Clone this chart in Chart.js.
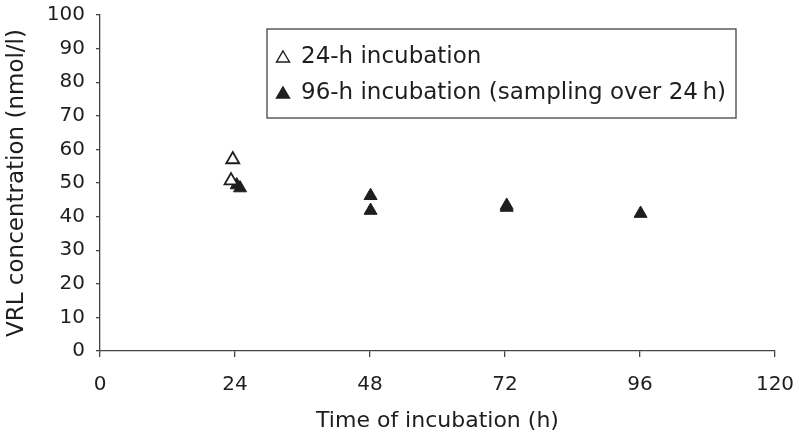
<!DOCTYPE html>
<html>
<head>
<meta charset="utf-8">
<script src="https://cdn.jsdelivr.net/npm/chart.js@4/dist/chart.umd.min.js"></script>
<style>
  html, body { margin: 0; padding: 0; background: #fff; }
  #wrap { width: 800px; height: 435px; }
</style>
</head>
<body>
<div id="wrap"><canvas id="myChart" width="800" height="435"></canvas></div>
<script>
// values
const seriesNames = ['24-h incubation', '96-h incubation (sampling over 24\u2009h)'];
const openTimes = [23.6, 23.3];
const openVals = [57.0, 50.7];
const filledTimes = [24.3, 24.9, 48.1, 48.1, 72.3, 72.3, 96.1];
const filledVals = [49.4, 48.5, 46.2, 41.8, 43.3, 42.7, 40.9];
const xTicks = [0, 24, 48, 72, 96, 120];

const font = "'DejaVu Sans', 'Liberation Sans', sans-serif";
const ink = '#1e1e1e';

function pts(xs, ys) {
  return xs.map((x, i) => ({ x: x, y: ys[i] }));
}

// little boxed legend inside the plot, like the original
const boxLegend = {
  id: 'boxLegend',
  afterDraw(chart) {
    const ctx = chart.ctx;
    const x0 = 267, y0 = 29, w = 469, h = 89;
    ctx.save();
    ctx.strokeStyle = '#444';
    ctx.lineWidth = 1.3;
    ctx.strokeRect(x0, y0, w, h);
    ctx.font = '23px ' + font;
    ctx.textBaseline = 'middle';
    chart.data.datasets.forEach((ds, i) => {
      const cy = y0 + 28 + i * 36;
      const mx = x0 + 16;
      ctx.beginPath();
      ctx.moveTo(mx, cy - 6);
      ctx.lineTo(mx + 6.5, cy + 5);
      ctx.lineTo(mx - 6.5, cy + 5);
      ctx.closePath();
      ctx.lineWidth = 1.4;
      ctx.strokeStyle = ink;
      if (ds.pointBackgroundColor !== '#fff') { ctx.fillStyle = ink; ctx.fill(); }
      ctx.stroke();
      ctx.fillStyle = ink;
      ctx.fillText(ds.label, x0 + 34, cy);
    });
    ctx.restore();
  }
};

new Chart(document.getElementById('myChart'), {
  type: 'scatter',
  data: {
    datasets: [
      {
        label: seriesNames[0],
        data: pts(openTimes, openVals),
        pointStyle: 'triangle',
        pointRadius: 7.5,
        pointBackgroundColor: '#fff',
        pointBorderColor: ink,
        pointBorderWidth: 1.8
      },
      {
        label: seriesNames[1],
        data: pts(filledTimes, filledVals),
        pointStyle: 'triangle',
        pointRadius: 7.5,
        pointBackgroundColor: ink,
        pointBorderColor: ink,
        pointBorderWidth: 1
      }
    ]
  },
  options: {
    responsive: false,
    animation: false,
    layout: { autoPadding: false, padding: { top: 15, right: 25, left: 0, bottom: 0 } },
    plugins: {
      legend: { display: false },
      tooltip: { enabled: false }
    },
    scales: {
      x: {
        type: 'linear',
        min: 0,
        max: 120,
        afterBuildTicks: (s) => { s.ticks = xTicks.map(v => ({ value: v })); },
        grid: { display: true, drawOnChartArea: false, drawTicks: true, tickLength: 6, color: '#444', lineWidth: 1.3 },
        border: { display: true, color: '#444', width: 1.3 },
        ticks: { color: ink, font: { family: font, size: 20 }, padding: 16, maxRotation: 0 },
        title: { display: true, text: 'Time of incubation (h)', color: ink, font: { family: font, size: 22 }, padding: { top: 0, bottom: 1 } },
        afterFit: (s) => { s.height = 84; s.paddingLeft = 0; s.paddingRight = 0; }
      },
      y: {
        min: 0,
        max: 100,
        ticks: { stepSize: 10, color: ink, font: { family: font, size: 20 }, padding: 11 },
        grid: { display: true, drawOnChartArea: false, drawTicks: true, tickLength: 4, color: '#444', lineWidth: 1.3 },
        border: { display: true, color: '#444', width: 1.3 },
        title: { display: true, text: 'VRL concentration (nmol/l)', color: ink, font: { family: font, size: 23 }, padding: { top: 3, bottom: 0 } },
        afterFit: (s) => { s.width = 100; s.paddingTop = 0; s.paddingBottom = 0; }
      }
    }
  },
  plugins: [boxLegend]
});
</script>
</body>
</html>
